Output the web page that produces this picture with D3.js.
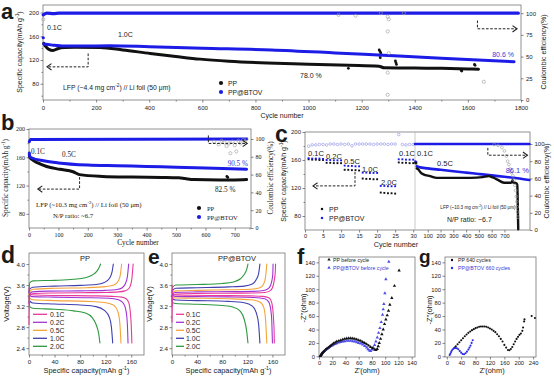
<!DOCTYPE html>
<html><head><meta charset="utf-8">
<script src="https://cdn.jsdelivr.net/npm/d3@7"></script>
<style>body{margin:0;background:#fff}svg{display:block}</style>
</head><body><svg id="c" width="554" height="379"></svg>
<script>
// ---------------- DATA ----------------
// Panel a
const aCycleTicks = [0,200,400,600,800,1000,1200,1400,1600,1800];
const aCapTicks = [80,120,160,200];
const aCETicks = [0,25,50,75,100];
const aPP = [[3,148],[10,143],[22,138],[38,136],[55,139],[80,141],[120,141.5],[215,141],[300,137],[404,131],[500,126],[592,121.5],[700,118],[845,115],[1000,113],[1150,111],[1265,109.5],[1285,107],[1400,106.5],[1500,106],[1600,105],[1640,104.5]];
const aPPDots = [[1150,106],[1266,137],[1269,134.5],[1272,132],[1268,128],[1270,124],[1327,118.5],[1329,115.5],[1331,112.5],[1575,102.5],[1577,101.5],[1625,112.5],[1627,111]];
const aBT = [[3,147],[30,145.5],[80,143.5],[150,143.5],[250,144],[400,142.5],[600,140],[860,137],[1100,132],[1300,127.5],[1500,123],[1774,117]];
const aBTFirst = [[1,157.5]];
const aCE = [[1,98],[15,100],[40,99.5],[60,100],[1790,100]];
const aCEGray = [[1,93],[1113,98],[1177,97],[1272,100],[1298,96],[1302,93],[1298,79],[1302,54],[1298,31.5],[1298,6],[1359,100],[1660,21]];

// Panel b
const bCycleTicks = [0,100,200,300,400,500,600,700];
const bCapTicks = [80,120,160,200];
const bCETicks = [0,20,40,60,80,100];
const bPP = [[1,163],[3,160],[10,157],[30,152],[60,147],[105,143],[150,139.5],[172,135.5],[250,133],[350,132],[450,131.5],[510,131],[530,130],[560,128.5],[650,128],[700,128],[740,128.5]];
const bPPDots = [[673,133],[676,131.5]];
const bBT = [[1,166],[3,161],[10,159],[50,155],[100,152],[200,149],[300,148],[400,147],[500,146],[600,145],[740,143]];
const bCE = [[1,97],[5,99.5],[740,100]];
const bCEGray = [[630,97],[645,94],[655,98],[665,96],[672,92],[680,95],[685,84],[692,97],[700,93],[705,86],[712,98],[720,95],[728,99],[735,97],[740,100]];

// Panel c (rate test, cycles 1-30)
const cRateTicks = [0,5,10,15,20,25,30];
const cLongTicks = [100,200,300,400,500,600,700];
const cCapTicks = [80,120,160,200];
const cCETicks = [0,20,40,60,80,100];
const cRateCycles = [1,2,3,4,5,6,7,8,9,10,11,12,13,14,15,16,17,18,19,20,21,22,23,24,25,26,27,28,29,30];
const cRatePP = [161,160.5,160.5,160,160,156,156,155.5,155.5,155.5,146,146,145.5,145.5,145,133.5,133,133,132.5,132.5,113.5,113,112.5,112.5,112,156.5,156,156,155.5,155.5];
const cRateBT = [162.5,162,162,162,161.5,160,160,159.5,159.5,159.5,152,151.5,151.5,151,151,142,142,141.5,141.5,141.5,123,123,122.5,122.5,122.5,161,161,160.5,160.5,160.5];
const cRateCE = [97.5,99,99,99.5,99.5,99,100,100,99.5,100,99.5,100,98,100,100,100,100,100,99.5,100,100,100,99.5,100,100,111,99.5,99,99.5,99.5];
const cRateLabels = ['0.1C','0.2C','0.5C','1.0C','2.0C','0.1C'];
// Panel c (long cycling)
const cLongPP01 = [[2,156],[6,155.5],[10,155]];
const cLongBT01 = [[2,158],[6,157.5],[10,157]];
const cLongPP = [[14,148],[26,146.5],[45,142],[66,139.5],[118,137],[171,134.5],[300,134.5],[434,134.5],[530,135.5],[576,137],[610,135],[645,132],[697,127.5],[750,127.5],[760,129],[763,131],[768,128],[790,127],[800,125],[803,110],[805,90],[807,70],[808,61]];
const cLongBT = [[14,151],[30,150],[100,148],[200,146],[300,144],[400,142],[500,140],[600,138],[700,136],[800,134],[895,131.5]];
const cLongCE = [[0,100],[895,100]];
const cLongCEGray = [[620,99.5],[650,98.5],[680,96],[700,92],[715,86],[725,80],[735,76],[745,71],[755,67],[765,63],[775,58],[782,52],[788,46],[793,39],[797,33],[800,27],[803,21],[806,15]];

// Panels d / e : charge-discharge profiles (capacity mAh/g, voltage V)
const rates = ['0.1C','0.2C','0.5C','1.0C','2.0C'];
const vTicks = [2.4,2.8,3.2,3.6,4.0];
const capTicks = [0,40,80,120,160];
const ppCharge = [
 [[0,2.85],[0.5,3.3],[2,3.42],[8,3.44],[40,3.45],[80,3.455],[120,3.46],[140,3.47],[150,3.49],[156,3.53],[159,3.6],[161,3.72],[162,3.85],[163,4.0]],
 [[0,3.25],[1,3.43],[5,3.47],[30,3.485],[80,3.49],[120,3.5],[138,3.515],[146,3.55],[151,3.63],[154,3.76],[156,4.0]],
 [[0,3.3],[1,3.47],[6,3.52],[40,3.54],[90,3.55],[120,3.57],[133,3.6],[140,3.68],[143,3.8],[145,4.0]],
 [[0,3.35],[1,3.52],[6,3.56],[40,3.58],[80,3.595],[105,3.61],[118,3.65],[126,3.73],[130,3.85],[132,4.0]],
 [[0,3.45],[1,3.64],[6,3.68],[40,3.69],[70,3.71],[88,3.74],[99,3.79],[106,3.86],[110,3.94],[112,4.0]]
];
const ppDischarge = [
 [[0,3.55],[1,3.44],[4,3.415],[20,3.405],[60,3.4],[100,3.395],[130,3.385],[145,3.37],[152,3.34],[156,3.27],[158,3.15],[159.5,2.95],[160.5,2.7],[161,2.5]],
 [[0,3.5],[1,3.41],[5,3.38],[40,3.37],[90,3.36],[125,3.35],[140,3.32],[148,3.25],[152,3.1],[154,2.85],[155,2.5]],
 [[0,3.45],[1,3.35],[6,3.32],[40,3.305],[90,3.29],[118,3.27],[132,3.22],[139,3.1],[142,2.9],[144,2.5]],
 [[0,3.4],[1,3.3],[6,3.26],[40,3.24],[80,3.22],[105,3.19],[118,3.12],[126,2.98],[129,2.8],[131,2.5]],
 [[0,3.3],[1,3.19],[6,3.16],[40,3.14],[70,3.11],[88,3.07],[99,2.98],[105,2.85],[109,2.68],[111,2.5]]
];
const btCharge = [
 [[0,2.9],[0.5,3.3],[2,3.41],[8,3.43],[40,3.44],[90,3.445],[130,3.45],[148,3.46],[156,3.49],[160,3.55],[163,3.7],[164.5,3.85],[165,4.0]],
 [[0,3.2],[1,3.43],[5,3.46],[40,3.47],[90,3.475],[130,3.48],[148,3.5],[155,3.55],[158.5,3.65],[160.5,3.8],[161,4.0]],
 [[0,3.3],[1,3.45],[6,3.49],[40,3.5],[90,3.51],[125,3.52],[140,3.55],[146,3.62],[149,3.75],[151,4.0]],
 [[0,3.3],[1,3.5],[6,3.54],[40,3.55],[90,3.565],[115,3.58],[128,3.62],[134,3.7],[138,3.82],[140,4.0]],
 [[0,3.4],[1,3.56],[6,3.6],[40,3.61],[80,3.63],[98,3.66],[109,3.72],[115,3.8],[119,3.9],[121,4.0]]
];
const btDischarge = [
 [[0,3.6],[1,3.44],[4,3.415],[30,3.405],[80,3.4],[120,3.395],[145,3.385],[154,3.36],[158,3.3],[160.5,3.15],[162,2.9],[162.7,2.7],[163,2.5]],
 [[0,3.5],[1,3.41],[5,3.385],[40,3.38],[90,3.375],[130,3.365],[148,3.34],[154,3.28],[157.5,3.12],[159,2.9],[160,2.5]],
 [[0,3.45],[1,3.38],[6,3.355],[40,3.35],[90,3.34],[125,3.32],[140,3.28],[146,3.18],[149,2.95],[151,2.5]],
 [[0,3.4],[1,3.34],[6,3.315],[40,3.305],[90,3.29],[115,3.265],[128,3.2],[134,3.08],[138,2.85],[140,2.5]],
 [[0,3.35],[1,3.27],[6,3.25],[40,3.235],[80,3.21],[98,3.18],[109,3.1],[115,2.95],[119,2.72],[121,2.5]]
];

// Panel f / g : Nyquist plots (Z' ohm, -Z'' ohm)
const fTicks = [0,20,40,60,80,100,120,140];
const gXTicks = [0,40,80,120,160,200,240];
const zTicks = [0,20,40,60,80,100,120,140];
const fPP = [[2,0.5],[3,2],[4,3.5],[5,5],[6.5,6.5],[8,8],[10,10],[12,11.5],[14,13],[16,14.5],[18,16],[20,17.5],[22,19],[24.5,20.5],[27,22],[30,23],[33,24],[36,25],[39,26],[42,26.5],[45,27],[48,27],[51,26.5],[54,26],[57,25],[60,24],[63,23],[66,21.5],[69,20],[72,18],[75,16],[78,14],[81,12],[84,10],[86,9.5],[88,11],[89.5,15],[91,20],[93,26],[95,33],[97,40],[99,48],[101,55],[103,61],[105,68],[107,77],[110,87],[114,105],[121,128]];
const fBT = [[2,0.5],[3,2],[4,3.5],[5,5],[6.5,6.5],[8,8],[10,9.5],[12,11],[14,12.5],[16,14],[18,15.5],[20,16.5],[22,17.5],[24.5,18.5],[27,19.5],[30,20.5],[33,21.5],[36,22],[39,22.5],[42,23],[45,23],[48,23],[51,22.5],[54,22],[57,21],[60,20],[63,19],[66,17.5],[69,15.5],[72,13],[74,10.5],[76,8.5],[78,8],[80,10],[82,13],[84,17],[86,22],[88,28],[90,35],[92,42],[94,51],[96,62],[97,70],[98,78],[99.5,94],[101,115],[105.5,141]];
const gPP = [[22,13],[25,15],[30,18],[35,21],[40,24],[45,27],[50,30],[55,32.5],[60,35],[65,37],[70,39],[75,40.5],[80,42],[85,43],[90,44],[95,44.5],[100,44.5],[105,44.5],[110,44],[115,43],[120,41.5],[125,40],[130,38],[135,36],[140,33],[145,30],[150,26],[155,22],[160,17],[165,13],[170,9.5],[174,9],[178,11],[182,14],[186,18],[190,22],[194,26],[198,29],[202,32],[206,34],[210,38],[212,43],[215,52],[216,55],[236,60],[245,57]];
const gBT = [[8,2],[10,4],[12,6.5],[14,8.5],[17,10.5],[20,12],[24,12.5],[28,12],[32,10.5],[36,8],[40,5.5],[44,3.5],[48,3],[52,4.5],[56,7],[60,10],[63,13],[66,16],[69,20],[72,24]];

// ---------------- DRAWING ----------------
const svg = d3.select('#c');
const SANS = 'Liberation Sans, Arial, sans-serif';
const SERIF = 'Liberation Serif, Times New Roman, serif';
const BLUE = '#1c1ce6';
const INK = '#1a1a1a';
const GRAY = '#9a9a9a';
const rateColors = ['#e8399a','#a035d6','#f5a33a','#3f3fb0','#2e9a40'];
const intFmt = d3.format('d');

function frame(x0,x1,y0,y1){
  svg.append('rect').attr('x',x0).attr('y',y0).attr('width',x1-x0).attr('height',y1-y0)
    .attr('fill','none').attr('stroke','#777').attr('stroke-width',0.8);
}
function axis(orient, scale, pos, vals, opt={}){
  const gen = {b:d3.axisBottom,l:d3.axisLeft,r:d3.axisRight}[orient](scale)
    .tickValues(vals).tickSize(opt.size ?? 2.5).tickPadding(opt.pad ?? 1.5).tickSizeOuter(0)
    .tickFormat(opt.fmt ?? intFmt);
  const g = svg.append('g').attr('transform', orient==='b' ? `translate(0,${pos})` : `translate(${pos},0)`).call(gen);
  g.select('.domain').remove();
  g.selectAll('line').attr('stroke','#555').attr('stroke-width',0.7);
  g.selectAll('text').attr('font-size',opt.fs ?? 6).attr('font-family',opt.ff ?? SANS).attr('fill',INK);
  return g;
}
function minor(orient, scale, pos, vals){ axis(orient, scale, pos, vals, {size:1.5, fmt:()=>''}); }
function txt(x,y,parts,o={}){
  const fs = o.fs ?? 7;
  const t = svg.append('text').attr('x',x).attr('y',y).attr('font-size',fs)
    .attr('font-family',o.ff ?? SANS).attr('fill',o.fill ?? INK).attr('text-anchor',o.anchor ?? 'start');
  if (o.rot) t.attr('transform',`rotate(${o.rot},${x},${y})`);
  if (o.weight) t.attr('font-weight',o.weight);
  if (typeof parts === 'string') parts = [[parts]];
  let up = false;
  parts.forEach(([s,sup])=>{
    const ts = t.append('tspan').text(s);
    if (sup && !up){ ts.attr('dy',-fs*0.4).attr('font-size',fs*0.7); up = true; }
    else if (!sup && up){ ts.attr('dy',fs*0.4); up = false; }
  });
  return t;
}
function line(data,x,y,color,w,curve=d3.curveMonotoneX){
  svg.append('path').datum(data)
    .attr('d', d3.line().x(d=>x(d[0])).y(d=>y(d[1])).curve(curve))
    .attr('fill','none').attr('stroke',color).attr('stroke-width',w)
    .attr('stroke-linejoin','round').attr('stroke-linecap','round');
}
function dots(data,x,y,color,r,hollow){
  svg.append('g').selectAll('circle').data(data).join('circle')
    .attr('cx',d=>x(d[0])).attr('cy',d=>y(d[1])).attr('r',r)
    .attr('fill',hollow?'none':color).attr('stroke',hollow?color:'none').attr('stroke-width',0.6);
}
function squares(data,x,y,color,s){
  svg.append('g').selectAll('rect').data(data).join('rect')
    .attr('x',d=>x(d[0])-s/2).attr('y',d=>y(d[1])-s/2).attr('width',s).attr('height',s).attr('fill',color);
}
function tris(data,x,y,color){
  svg.append('g').selectAll('path').data(data).join('path')
    .attr('transform',d=>`translate(${x(d[0])},${y(d[1])})`)
    .attr('d', d3.symbol(d3.symbolTriangle).size(5)).attr('fill',color);
}
function dashArrow(pts, dir){
  svg.append('path').attr('d', d3.line()(pts)).attr('fill','none').attr('stroke','#222')
    .attr('stroke-width',1).attr('stroke-dasharray','2.6,1.6');
  const [x,y] = pts[pts.length-1]; const s = dir==='left' ? 1 : -1;
  svg.append('path').attr('d',`M${x+s*4.5},${y-3.2}L${x},${y}L${x+s*4.5},${y+3.2}`)
    .attr('fill','none').attr('stroke','#222').attr('stroke-width',1.1);
}
function letter(s,x,y,fs=21){ txt(x,y,s,{fs,weight:'bold'}); }
const capTitle = [['Specific capacity(mAh g'],['-1',true],[')']];

// ===== Panel a =====
{
  const x = d3.scaleLinear([0,1800],[43,521]);
  const y = d3.scaleLinear([52.7,212.6],[100,5]);
  const y2 = d3.scaleLinear([0,109.4],[100,5]);
  frame(43,521,5,100);
  axis('b',x,100,aCycleTicks,{pad:3.5});
  minor('b',x,100,aCycleTicks.slice(0,-1).map(v=>v+100));
  axis('l',y,43,aCapTicks);
  minor('l',y,43,[60,100,140,180]);
  axis('r',y2,521,aCETicks,{pad:2.5});
  txt(282,118,'Cycle number',{anchor:'middle'});
  txt(22,52,capTitle,{anchor:'middle',rot:-90,fs:7});
  txt(546,52,'Coulombic efficiency(%)',{anchor:'middle',rot:-90,fs:7});
  line(aCE,x,y2,BLUE,3.2);
  line(aPP,x,y,'#111',3);
  dots(aPPDots,x,y,'#111',1.4);
  line(aBT,x,y,BLUE,3);
  dots(aBTFirst,x,y,BLUE,1.6);
  dots(aCEGray,x,y2,GRAY,1.6,true);
  txt(47,30,'0.1C',{fs:7});
  txt(118,37,'1.0C',{fs:7});
  txt(300,78,'78.0 %',{fs:7});
  txt(514,57,'80.6 %',{fs:7,fill:'#3a3ad8',anchor:'end'});
  txt(63,90,[['LFP (~4.4 mg cm'],['-2',true],[') // Li foil (50 μm)']],{fs:6.8});
  dots([[0,0]],()=>221,()=>83,'#111',2.1);
  dots([[0,0]],()=>221,()=>92,BLUE,2.1);
  txt(228,85.5,'PP',{fs:6.8});
  txt(228,94.5,'PP@BTOV',{fs:6.8});
  dashArrow([[x(170),y(131)],[x(170),y(108.5)],[x(15),y(108.5)]],'left');
  dashArrow([[x(1636),y2(91.5)],[x(1636),y2(82)],[x(1785),y2(82)]],'right');
  letter('a',1,19,22);
}

// ===== Panel b =====
{
  const x = d3.scaleLinear([0,755],[29,251]);
  const y = d3.scaleLinear([60,200],[228,129]);
  const y2 = d3.scaleLinear([0,111.2],[228,129]);
  frame(29,251,129,228);
  axis('b',x,228,bCycleTicks,{pad:2.2,ff:SERIF});
  minor('b',x,228,bCycleTicks.map(v=>v+50));
  axis('l',y,29,bCapTicks,{ff:SERIF});
  minor('l',y,29,[100,140,180]);
  axis('r',y2,251,bCETicks,{ff:SERIF,pad:2});
  txt(138,245.3,'Cycle number',{anchor:'middle',ff:SERIF,fs:7.4});
  txt(8,178,capTitle,{anchor:'middle',rot:-90,ff:SERIF,fs:7.2});
  txt(273,178,'Coulombic efficiency(%)',{anchor:'middle',rot:-90,ff:SERIF,fs:7.2});
  line(bCE,x,y2,BLUE,3);
  line(bPP,x,y,'#111',3);
  dots(bPPDots,x,y,'#111',1.4);
  line(bBT,x,y,BLUE,3);
  dots(bCEGray,x,y2,GRAY,1.6,true);
  txt(31,154,'0.1C',{ff:SERIF,fs:7.2});
  txt(62,157,'0.5C',{ff:SERIF,fs:7.2});
  txt(248,166,'90.5 %',{ff:SERIF,fs:7.2,fill:'#3a3ad8',anchor:'end'});
  txt(215,192,'82.5 %',{ff:SERIF,fs:7.2});
  txt(36,207,[['LFP (~10.3 mg cm'],['-2',true],[') // Li foil (50 μm)']],{ff:SERIF,fs:6.8});
  txt(53,218,'N/P ratio: ~6.7',{ff:SERIF,fs:6.8});
  dots([[0,0]],()=>199,()=>208,'#111',2.1);
  dots([[0,0]],()=>199,()=>217,BLUE,2.1);
  txt(207,210.5,'PP',{ff:SERIF,fs:6.5});
  txt(207,219.5,'PP@BTOV',{ff:SERIF,fs:6.5});
  dashArrow([[x(172),y(132)],[x(172),y(115)],[x(30),y(115)]],'left');
  dashArrow([[x(610),y2(104)],[x(610),y2(95)],[x(742),y2(95)]],'right');
  letter('b',1,130,22);
}

// ===== Panel c =====
{
  const xL = d3.scaleLinear([0,30.5],[305,415]);
  const xR = d3.scaleLinear([0,900],[415,530]);
  const y = d3.scaleLinear([60,200],[230,132]);
  const y2 = d3.scaleLinear([0,114],[230,132]);
  frame(305,530,132,230);
  svg.append('line').attr('x1',415).attr('x2',415).attr('y1',132).attr('y2',230).attr('stroke','#bbb').attr('stroke-width',0.8);
  axis('b',xL,230,cRateTicks,{pad:2,fs:5.6});
  axis('b',xR,230,cLongTicks,{pad:2,fs:5.6});
  axis('l',y,305,cCapTicks);
  minor('l',y,305,[100,140,180]);
  axis('r',y2,530,cCETicks,{pad:2});
  txt(396,246.5,'Cycle number',{anchor:'middle',fs:7.2});
  txt(286,181,capTitle,{anchor:'middle',rot:-90,fs:7});
  txt(549,181,'Coulombic efficiency(%)',{anchor:'middle',rot:-90,fs:7});
  // rate part
  const ppRate = cRateCycles.map((c,i)=>[c,cRatePP[i]]);
  const btRate = cRateCycles.map((c,i)=>[c,cRateBT[i]]);
  const ceRate = cRateCycles.map((c,i)=>[c,cRateCE[i]]);
  dots(ceRate,xL,y2,'#8c8ce6',1.3,true);
  squares(ppRate,xL,y,'#111',1.9);
  squares(btRate,xL,y,BLUE,1.9);
  // long cycling
  line(cLongCE,xR,y2,BLUE,2.6);
  line(cLongBT,xR,y,BLUE,2.6);
  line(cLongPP,xR,y,'#111',2.4);
  squares(cLongBT01,xR,y,BLUE,1.9);
  squares(cLongPP01,xR,y,'#111',1.9);
  dots(cLongCEGray,xR,y2,GRAY,1.4,true);
  const labPos = [[308,156],[326,159],[344,164],[362,172],[381,185],[399,156]];
  cRateLabels.forEach((s,i)=>txt(labPos[i][0],labPos[i][1],s,{fs:7.5}));
  txt(417,156,'0.1C',{fs:7.5});
  txt(437,166,'0.5C',{fs:7.5});
  txt(529,173,'86.1 %',{fs:7.5,fill:'#3a3ad8',anchor:'end'});
  txt(478,209,[['LFP (~10.3 mg cm'],['-2',true],[') // Li foil (50 μm)']],{fs:4.6,anchor:'middle'});
  txt(447,222,'N/P ratio: ~6.7',{fs:7});
  squares([[0,0]],()=>322,()=>209,'#111',2.2);
  squares([[0,0]],()=>322,()=>218,BLUE,2.2);
  txt(329,211.5,'PP',{fs:7});
  txt(329,220.5,'PP@BTOV',{fs:7});
  dashArrow([[355,y(143)],[355,y(123)],[313,y(123)]],'left');
  dashArrow([[xR(570),y2(95.5)],[xR(570),y2(87)],[xR(880),y2(87)]],'right');
  letter('c',275,142,23);
}

// ===== Panels d & e =====
function cdPanel(x0,x1,curvesC,curvesD,title,titleX,legLine,legText){
  const x = d3.scaleLinear([0,180],[x0,x1]);
  const y = d3.scaleLinear([2.27,4.21],[355,253]);
  frame(x0,x1,253,355);
  axis('b',x,355,capTicks,{pad:2.5,fs:6.2});
  minor('b',x,355,[20,60,100,140]);
  axis('l',y,x0,vTicks,{fmt:d3.format('.1f'),fs:6.2});
  minor('l',y,x0,[2.6,3.0,3.4,3.8]);
  txt((x0+x1)/2,373,capTitle,{anchor:'middle',fs:7.4});
  txt(x0-20,304,'Voltage(V)',{anchor:'middle',rot:-90,fs:7.6});
  for (let i=rates.length-1;i>=0;i--){
    line(curvesC[i],x,y,rateColors[i],1.1);
    line(curvesD[i],x,y,rateColors[i],1.1);
  }
  txt(titleX,261,title,{anchor:'middle',fs:7.5});
  rates.forEach((r,i)=>{
    const yy = 314.3 + i*8;
    svg.append('line').attr('x1',legLine[0]).attr('x2',legLine[1]).attr('y1',yy).attr('y2',yy)
      .attr('stroke',rateColors[i]).attr('stroke-width',1.3);
    txt(legText,yy+2.4,r,{fs:6.8});
  });
}
cdPanel(29,144,ppCharge,ppDischarge,'PP',85,[33,47],50);
cdPanel(172,285,btCharge,btDischarge,'PP@BTOV',237,[176,184],186);
letter('d',1,263,23);
letter('e',148,264,21);

// ===== Panels f & g =====
{
  const y = d3.scaleLinear([-1,148],[357,257]);
  const xf = d3.scaleLinear([0,145],[319,415]);
  frame(319,415,257,357);
  axis('b',xf,357,fTicks,{pad:1.2,fs:5.8});
  axis('l',y,319,zTicks,{fs:5.8});
  txt(367,373,"Z'(ohm)",{anchor:'middle',fs:7.4});
  txt(306,308,"-Z''(ohm)",{anchor:'middle',rot:-90,fs:7.4});
  tris(fBT,xf,y,'#4d4de8');
  tris(fPP,xf,y,'#111');
  tris([[0,0]],()=>329,()=>259.6,'#111');
  tris([[0,0]],()=>329,()=>267.8,'#4d4de8');
  txt(333,261.5,'PP before cycle',{fs:5.2});
  txt(333,269.7,'PP@BTOV before cycle',{fs:5.2,fill:'#3a3ad8'});
  letter('f',297,264,22);

  const xg = d3.scaleLinear([-5,248],[445,536]);
  frame(445,536,257,357);
  axis('b',xg,357,gXTicks,{pad:1.2,fs:5.8});
  axis('l',y,445,zTicks,{fs:5.8});
  txt(492,373,"Z'(ohm)",{anchor:'middle',fs:7.4});
  txt(432,310,"-Z''(ohm)",{anchor:'middle',rot:-90,fs:7.4});
  dots(gPP,xg,y,'#111',1.05);
  dots(gBT,xg,y,'#2a2ae6',1.05);
  dots([[0,0]],()=>452,()=>260,'#111',1.2);
  dots([[0,0]],()=>452,()=>268,'#2a2ae6',1.2);
  txt(458,262,'PP 640 cycles',{fs:5.2});
  txt(458,270,'PP@BTOV 660 cycles',{fs:5.2,fill:'#3a3ad8'});
  letter('g',419,263,19);
}
</script></body></html>
